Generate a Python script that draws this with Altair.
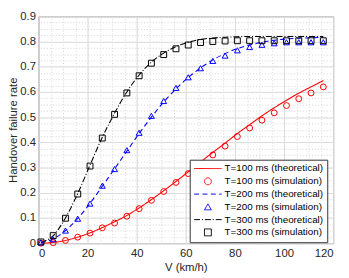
import altair as alt
import pandas as pd

V = [1, 6, 11, 16, 21, 26, 31, 36, 41, 46, 51, 56, 61, 66, 71, 76, 81, 86, 91, 96, 101, 106, 111, 116]

theory100 = [0.0, 0.003, 0.011, 0.024, 0.041, 0.062, 0.085, 0.11, 0.14, 0.173, 0.208, 0.245, 0.283, 0.322, 0.36, 0.397, 0.435, 0.47, 0.505, 0.537, 0.567, 0.595, 0.62, 0.645]
sim100 = [0.0, 0.002, 0.011, 0.024, 0.04, 0.061, 0.08, 0.107, 0.137, 0.17, 0.205, 0.241, 0.276, 0.314, 0.35, 0.385, 0.423, 0.457, 0.488, 0.517, 0.546, 0.573, 0.596, 0.62]
theory200 = [0.002, 0.017, 0.05, 0.098, 0.158, 0.226, 0.295, 0.365, 0.435, 0.5, 0.56, 0.612, 0.657, 0.695, 0.727, 0.752, 0.772, 0.786, 0.797, 0.805, 0.81, 0.813, 0.815, 0.816]
sim200 = [0.003, 0.016, 0.05, 0.097, 0.157, 0.228, 0.294, 0.369, 0.438, 0.505, 0.564, 0.616, 0.658, 0.694, 0.723, 0.744, 0.765, 0.778, 0.787, 0.793, 0.797, 0.797, 0.797, 0.797]
theory300 = [0.003, 0.03, 0.1, 0.197, 0.31, 0.42, 0.516, 0.6, 0.667, 0.718, 0.754, 0.78, 0.797, 0.808, 0.814, 0.817, 0.819, 0.82, 0.82, 0.82, 0.82, 0.82, 0.82, 0.82]
sim300 = [0.005, 0.03, 0.099, 0.195, 0.306, 0.417, 0.511, 0.596, 0.664, 0.714, 0.748, 0.771, 0.786, 0.796, 0.8, 0.802, 0.803, 0.803, 0.803, 0.803, 0.803, 0.803, 0.803, 0.803]

series = ["T=100 ms (theoretical)", "T=100 ms (simulation)",
          "T=200 ms (theoretical)", "T=200 ms (simulation)",
          "T=300 ms (theoretical)", "T=300 ms (simulation)"]
colors = ["#ff0000", "#ff0000", "#0000ff", "#0000ff", "#000000", "#000000"]
shapes = ["M-4,0H4", "circle", "M-4,0H4", "triangle-up", "M-4,0H4", "square"]
dashes = [[1, 0], [1, 0], [5, 3.5], [1, 0], [6, 2, 1, 2], [1, 0]]

x_major = [0, 20, 40, 60, 80, 100, 120]
y_major = [0, 0.1, 0.2, 0.3, 0.4, 0.5, 0.6, 0.7, 0.8, 0.9]
x_minor = list(range(0, 121, 5))
y_minor = [round(i * 0.025, 3) for i in range(0, 37)]

theory_rows = []
for name, vals in [(series[0], theory100), (series[2], theory200), (series[4], theory300)]:
    for v, r in zip(V, vals):
        theory_rows.append({"V": v, "rate": r, "series": name})
sim_rows = []
for name, vals in [(series[1], sim100), (series[3], sim200), (series[5], sim300)]:
    for v, r in zip(V, vals):
        sim_rows.append({"V": v, "rate": r, "series": name})

theory_df = pd.DataFrame(theory_rows)
sim_df = pd.DataFrame(sim_rows)

FONT = "Liberation Sans"

xscale = alt.Scale(domain=[0, 120], nice=False, zero=False)
yscale = alt.Scale(domain=[0, 0.9], nice=False, zero=False)

color_scale = alt.Scale(domain=series, range=colors)
shape_scale = alt.Scale(domain=series, range=shapes)
dash_scale = alt.Scale(domain=series, range=dashes)

legend = alt.Legend(
    title=None, orient="none", legendX=154, legendY=146,
    fillColor="white", strokeColor="#333333", padding=4,
    labelFont=FONT, labelFontSize=10, labelColor="#000000",
    symbolSize=49, symbolStrokeWidth=1, symbolOffset=9.5, labelOffset=12,
    rowPadding=2, labelLimit=200,
)

lines = alt.Chart(theory_df).mark_line(strokeWidth=1.1, interpolate="monotone").encode(
    x=alt.X("V:Q", scale=xscale, axis=alt.Axis(
        orient="top", values=x_minor, grid=True, gridColor="#d4d4d4", gridDash=[1, 2],
        labels=False, ticks=False, domain=False, title=None)),
    y=alt.Y("rate:Q", scale=yscale, axis=alt.Axis(
        orient="right", values=y_minor, grid=True, gridColor="#d4d4d4", gridDash=[1, 2],
        labels=False, ticks=False, domain=False, title=None)),
    color=alt.Color("series:N", scale=color_scale, legend=legend),
    strokeDash=alt.StrokeDash("series:N", scale=dash_scale, legend=legend),
    detail="series:N",
)

points = alt.Chart(sim_df).mark_point(filled=False, size=36, strokeWidth=1, opacity=1).encode(
    x=alt.X("V:Q", scale=xscale, axis=alt.Axis(
        orient="bottom", values=x_major, grid=True, gridColor="#dcdcdc",
        ticks=False, domain=False, labelPadding=5, title="V (km/h)", titlePadding=2)),
    y=alt.Y("rate:Q", scale=yscale, axis=alt.Axis(
        orient="left", values=y_major, format=".1~f", grid=True, gridColor="#dcdcdc",
        ticks=False, domain=False, labelPadding=3, title="Handover failure rate", titlePadding=1)),
    color=alt.Color("series:N", scale=color_scale, legend=legend),
    shape=alt.Shape("series:N", scale=shape_scale, legend=legend),
)

chart = alt.layer(lines, points).resolve_axis(x="independent", y="independent").properties(
    width=300, height=231,
    autosize=alt.AutoSizeParams(type="none"),
    padding={"left": 31, "top": 6, "right": 8, "bottom": 33},
).configure_view(stroke="#777777", strokeWidth=1).configure_axis(
    labelFont=FONT, labelFontSize=11.5, labelColor="#262626",
    titleFont=FONT, titleFontSize=11.5, titleFontWeight="normal", titleColor="#262626",
)

chart.save("out.html", embed_options={"renderer": "svg", "actions": False})
